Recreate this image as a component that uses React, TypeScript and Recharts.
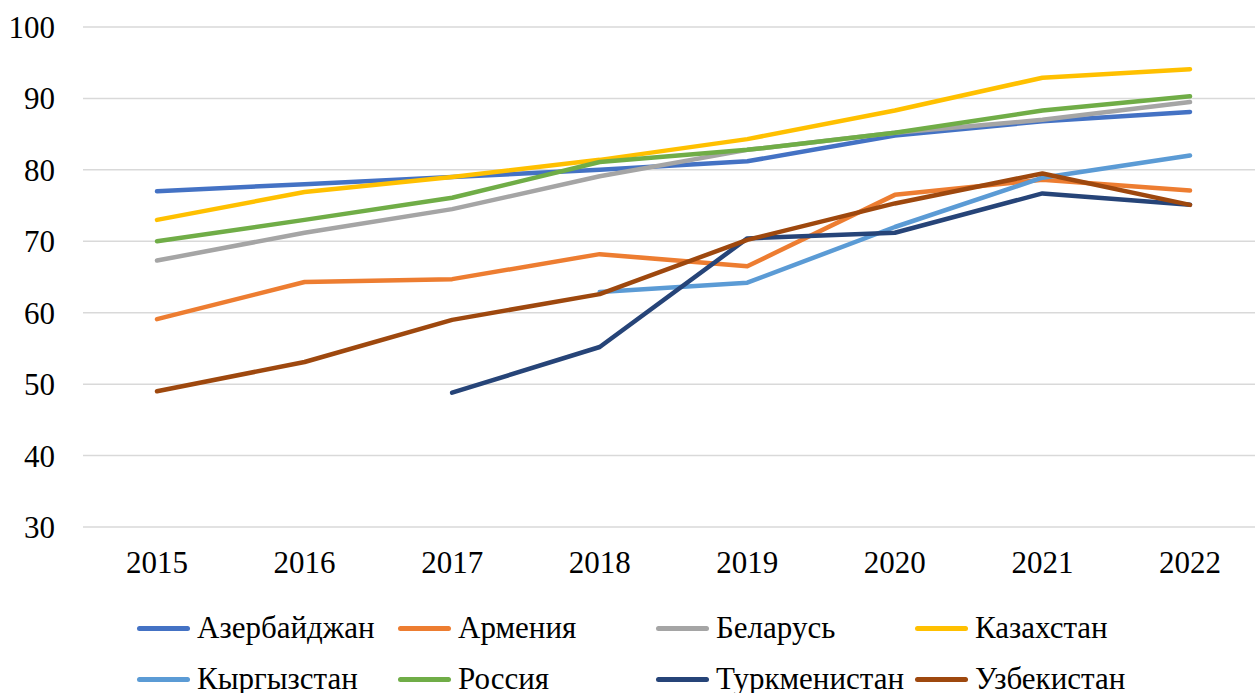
import React from 'react';
import { LineChart, Line, XAxis, YAxis, CartesianGrid, Legend } from 'recharts';

const years = ['2015', '2016', '2017', '2018', '2019', '2020', '2021', '2022'];
const azerbaijan = [77, 78, 79, 80, 81.2, 84.8, 86.8, 88.1];
const armenia = [59.1, 64.3, 64.7, 68.2, 66.5, 76.5, 78.6, 77.1];
const belarus = [67.3, 71.2, 74.5, 79.1, 82.8, 85.2, 87, 89.5];
const kazakhstan = [73, 76.9, 79, 81.4, 84.3, 88.3, 92.9, 94.1];
const kyrgyzstan = [null, null, null, 62.9, 64.2, 72, 78.9, 82];
const russia = [70, 73, 76.1, 81.1, 82.8, 85.2, 88.3, 90.3];
const turkmenistan = [null, null, 48.8, 55.2, 70.4, 71.2, 76.7, 75.1];
const uzbekistan = [49, 53.1, 59, 62.6, 70.2, 75.3, 79.5, 75.1];
const yTicks = [30, 40, 50, 60, 70, 80, 90, 100];

const seriesList = [
  { key: 'Азербайджан', values: azerbaijan, color: '#4472C4' },
  { key: 'Армения', values: armenia, color: '#ED7D31' },
  { key: 'Беларусь', values: belarus, color: '#A5A5A5' },
  { key: 'Казахстан', values: kazakhstan, color: '#FFC000' },
  { key: 'Кыргызстан', values: kyrgyzstan, color: '#5B9BD5' },
  { key: 'Россия', values: russia, color: '#70AD47' },
  { key: 'Туркменистан', values: turkmenistan, color: '#264478' },
  { key: 'Узбекистан', values: uzbekistan, color: '#9E480E' },
];

const data = years.map((y, i) => {
  const row: Record<string, any> = { year: y };
  seriesList.forEach((s) => {
    row[s.key] = s.values[i];
  });
  return row;
});

const FONT = 'Liberation Serif, serif';
const colX = [137, 398, 656, 915];
const rowY = [41, 92];

const LegendContent = () => (
  <div style={{ position: 'relative', width: 1255, height: 106 }}>
    {seriesList.map((s, i) => {
      const col = i % 4;
      const row = Math.floor(i / 4);
      return (
        <div
          key={s.key}
          style={{
            position: 'absolute',
            left: colX[col],
            top: rowY[row] - 20,
            height: 40,
            display: 'flex',
            alignItems: 'center',
            whiteSpace: 'nowrap',
          }}
        >
          <div style={{ width: 53, height: 5, borderRadius: 3, background: s.color, marginRight: 7 }} />
          <span style={{ fontFamily: FONT, fontSize: 31, color: '#000', lineHeight: '40px' }}>{s.key}</span>
        </div>
      );
    })}
  </div>
);

export default function App() {
  return (
    <div style={{ position: 'absolute', left: 0, top: 0, width: 1255, height: 693, background: '#fff', fontFamily: FONT }}>
      <LineChart width={1255} height={693} data={data} margin={{ top: 27, right: 0, left: 0, bottom: 0 }} style={{ fontFamily: FONT }}>
        <CartesianGrid horizontal vertical={false} stroke="#d9d9d9" strokeWidth={1.5} />
        <XAxis
          dataKey="year"
          height={60}
          axisLine={false}
          tickLine={false}
          tickSize={0}
          tickMargin={24}
          padding={{ left: 74, right: 65 }}
          tick={{ fill: '#000', fontSize: 31, fontFamily: FONT }}
        />
        <YAxis
          width={83}
          domain={[30, 100]}
          ticks={yTicks}
          axisLine={false}
          tickLine={false}
          tickSize={0}
          tickMargin={28}
          tick={{ fill: '#000', fontSize: 31, fontFamily: FONT }}
        />
        <Legend verticalAlign="bottom" height={106} content={<LegendContent />} />
        {seriesList.map((s) => (
          <Line
            key={s.key}
            type="linear"
            dataKey={s.key}
            stroke={s.color}
            strokeWidth={4.5}
            dot={false}
            activeDot={false}
            isAnimationActive={false}
            strokeLinecap="round"
            strokeLinejoin="round"
          />
        ))}
      </LineChart>
    </div>
  );
}
